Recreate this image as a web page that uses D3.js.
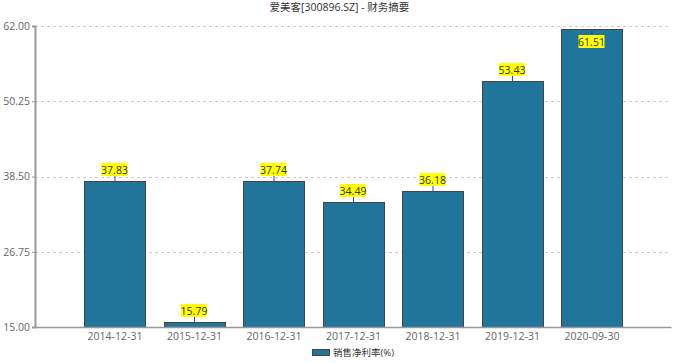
<!DOCTYPE html>
<html>
<head>
<meta charset="utf-8">
<script src="https://cdn.jsdelivr.net/npm/d3@7"></script>
<style>
  body { margin: 0; background: #fff; }
  svg { display: block; font-family: "Open Sans", "Noto Sans CJK SC", sans-serif; }
</style>
</head>
<body>
<div id="chart"></div>
<script>
// data
const categories = ["2014-12-31", "2015-12-31", "2016-12-31", "2017-12-31", "2018-12-31", "2019-12-31", "2020-09-30"];
const netMargin = [37.83, 15.79, 37.74, 34.49, 36.18, 53.43, 61.51];
const yTicks = [15.00, 26.75, 38.50, 50.25, 62.00];
const title = "爱美客[300896.SZ] - 财务摘要";
const seriesName = "销售净利率(%)";

(function () {
  const W = 679, H = 363;
  const pl = 35, pr = 671, pt = 26, pb = 327;

  const svg = d3.select("#chart").append("svg")
    .attr("width", W).attr("height", H);

  // x: one slot per category, with one empty slot each side
  const x = d3.scaleLinear().domain([0, categories.length + 1]).range([pl, pr]);
  const y = d3.scaleLinear().domain([15, 62]).range([pb, pt]);
  const barW = 61;

  // title
  svg.append("text")
    .attr("x", W / 2).attr("y", 11)
    .attr("text-anchor", "middle")
    .attr("font-size", 10.5).attr("fill", "#333")
    .text(title);

  // grid lines
  svg.append("g").selectAll("line")
    .data(yTicks.slice(1))
    .join("line")
    .attr("x1", pl).attr("x2", pr)
    .attr("y1", d => Math.round(y(d)) + 0.5).attr("y2", d => Math.round(y(d)) + 0.5)
    .attr("stroke", "#ccc").attr("stroke-dasharray", "3,3");

  // y axis
  const yAxis = svg.append("g")
    .attr("transform", `translate(${pl},0)`)
    .call(d3.axisLeft(y).tickValues(yTicks).tickFormat(d3.format(".2f")).tickSize(3).tickPadding(2));
  yAxis.select(".domain").attr("stroke", "#999").attr("stroke-width", 2);
  yAxis.selectAll(".tick line").attr("stroke", "#999");
  yAxis.selectAll("text").attr("fill", "#666").attr("font-size", 10.5).attr("font-family", "Open Sans, sans-serif");

  // bars
  svg.append("g").selectAll("rect")
    .data(netMargin)
    .join("rect")
    .attr("x", (d, i) => Math.round(x(i + 1) - barW / 2) + 0.5)
    .attr("y", d => Math.round(y(d)) + 0.5)
    .attr("width", barW)
    .attr("height", d => Math.round(y(15)) - Math.round(y(d)))
    .attr("fill", "#21759b")
    .attr("stroke", "#444").attr("stroke-width", 1);

  // x axis
  const xAxis = svg.append("g")
    .attr("transform", `translate(0,${pb})`)
    .call(d3.axisBottom(x).tickValues(d3.range(1, categories.length + 1))
      .tickFormat(i => categories[i - 1]).tickSize(0).tickPadding(6));
  xAxis.select(".domain").attr("stroke", "#999").attr("stroke-width", 1.5);
  xAxis.selectAll("text").attr("fill", "#666").attr("font-size", 10.5).attr("font-family", "Open Sans, sans-serif");

  // value labels
  const lab = svg.append("g").selectAll("g")
    .data(netMargin)
    .join("g")
    .attr("transform", (d, i) => `translate(${x(i + 1)},${Math.round(y(d))})`);

  // labels that would go past the top sit inside the bar
  const inside = d => y(d) - 20 < pt;

  lab.append("line")
    .attr("x1", 0.5).attr("x2", 0.5)
    .attr("y1", 0)
    .attr("y2", d => inside(d) ? 6 : -5)
    .attr("stroke", "#33f").attr("stroke-width", 1);

  lab.append("rect")
    .attr("x", -13).attr("width", 26).attr("height", 13)
    .attr("y", d => inside(d) ? 6 : -18)
    .attr("fill", "#ffff00");

  lab.append("text")
    .attr("text-anchor", "middle")
    .attr("y", d => inside(d) ? 16.5 : -7.5)
    .attr("font-size", 10.5).attr("fill", "#333")
    .attr("font-family", "Open Sans, sans-serif")
    .text(d => d.toFixed(2));

  // legend
  svg.append("rect")
    .attr("x", 312.5).attr("y", 349.5).attr("width", 17).attr("height", 6)
    .attr("fill", "#21759b").attr("stroke", "#444");
  svg.append("text")
    .attr("x", 333).attr("y", 356)
    .attr("font-size", 9.5).attr("fill", "#333")
    .text(seriesName);
})();
</script>
</body>
</html>
